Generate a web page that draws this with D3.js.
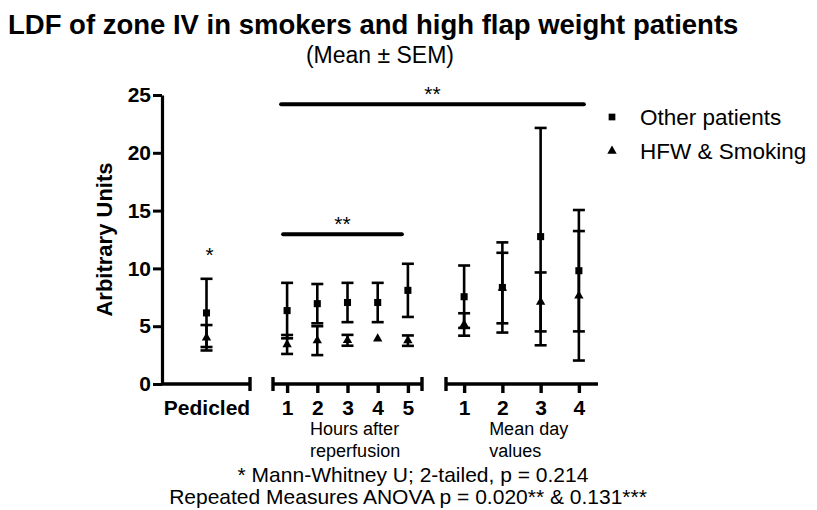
<!DOCTYPE html>
<html>
<head>
<meta charset="utf-8">
<script src="https://cdn.jsdelivr.net/npm/d3@7"></script>
<style>
  html, body { margin: 0; padding: 0; background: #fff; }
  svg { display: block; font-family: "Liberation Sans", Arial, sans-serif; }
</style>
</head>
<body>
<svg id="chart" width="817" height="510"></svg>
<script>
// ── Data ────────────────────────────────────────────────
const pedCats  = ['Pedicled'];
const hourCats = ['1', '2', '3', '4', '5'];
const dayCats  = ['1', '2', '3', '4'];

// Other patients (squares)
const otherPed     = [6.15];
const otherPedSem  = [2.95];
const otherHour    = [6.35, 6.95, 7.05, 7.05, 8.1];
const otherHourSem = [2.4, 1.7, 1.7, 1.7, 2.3];
const otherDay     = [7.55, 8.35, 12.75, 9.8];
const otherDaySem  = [2.7, 3.9, 9.4, 5.25];

// HFW & Smoking (triangles)
const hfwPed     = [4.0];
const hfwPedSem  = [1.1];
const hfwHour    = [3.42, 3.75, 3.78, 3.92, 3.75];
const hfwHourSem = [0.82, 1.25, 0.47, 0.1, 0.45];
const hfwDay     = [5.15, 8.3, 7.1, 7.63];
const hfwDaySem  = [0.97, 3.05, 2.55, 5.6];

const yTicks = [0, 5, 10, 15, 20, 25];

(function () {
  const svg = d3.select('#chart');
  const FONT = '"Liberation Sans", Arial, sans-serif';

  // ── Scales ─────────────────────────────────────────────
  const y  = d3.scaleLinear().domain([0, 25]).range([384, 95]);
  const xP = d3.scalePoint().domain(pedCats).range([162, 251]).padding(0.5);
  const xH = d3.scalePoint().domain(hourCats).range([272, 423]).padding(0.5);
  const xD = d3.scalePoint().domain(dayCats).range([445, 598]).padding(0.5);

  // ── Titles ─────────────────────────────────────────────
  svg.append('text')
    .attr('x', 8).attr('y', 34)
    .attr('font-size', 27.5).attr('font-weight', 'bold')
    .text('LDF of zone IV in smokers and high flap weight patients');

  svg.append('text')
    .attr('x', 380).attr('y', 63)
    .attr('text-anchor', 'middle')
    .attr('font-size', 23)
    .text('(Mean \u00B1 SEM)');

  // ── Y axis ─────────────────────────────────────────────
  const yAx = svg.append('g')
    .attr('transform', 'translate(162,0)')
    .call(d3.axisLeft(y).tickValues(yTicks).tickSize(9).tickSizeOuter(0).tickPadding(2));
  yAx.select('.domain').attr('stroke', '#000').attr('stroke-width', 3.2);
  yAx.selectAll('.tick line').attr('stroke', '#000').attr('stroke-width', 3);
  yAx.selectAll('.tick text')
    .attr('font-size', 21).attr('font-weight', 'bold')
    .attr('font-family', FONT).attr('fill', '#000');

  svg.append('text')
    .attr('transform', `translate(112,${y(12.5)}) rotate(-90)`)
    .attr('text-anchor', 'middle')
    .attr('font-size', 22).attr('font-weight', 'bold')
    .text('Arbitrary Units');

  // ── Segmented X axis ───────────────────────────────────
  // [scale, cap at left?, cap at right?]
  const segs = [[xP, false, true], [xH, true, true], [xD, true, false]];
  segs.forEach(([sc, capL, capR]) => {
    const [r0, r1] = sc.range();
    const ax = svg.append('g')
      .attr('transform', `translate(0,${y(0)})`)
      .call(d3.axisBottom(sc).tickSize(sc === xP ? 0 : 9).tickSizeOuter(0));
    ax.select('.domain').attr('stroke', '#000').attr('stroke-width', 3.4)
      .attr('d', `M${r0},0H${r1}`);
    ax.selectAll('.tick line').attr('stroke', '#000').attr('stroke-width', 3.4);
    ax.selectAll('.tick text')
      .attr('font-size', 21).attr('font-weight', 'bold')
      .attr('font-family', FONT).attr('fill', '#000')
      .attr('dy', 0).attr('y', 31);
    if (capL) ax.append('line').attr('x1', r0 + 1).attr('x2', r0 + 1).attr('y1', -7).attr('y2', 7)
      .attr('stroke', '#000').attr('stroke-width', 3.4);
    if (capR) ax.append('line').attr('x1', r1 - 1).attr('x2', r1 - 1).attr('y1', -7).attr('y2', 7)
      .attr('stroke', '#000').attr('stroke-width', 3.4);
  });

  // Segment captions
  const captions = [
    { x: xH('1') + 23, lines: ['Hours after', 'reperfusion'] },
    { x: xD('1') + 25, lines: ['Mean day', 'values'] },
  ];
  captions.forEach(c => c.lines.forEach((s, i) => {
    svg.append('text')
      .attr('x', c.x).attr('y', 435 + i * 22)
      .attr('font-size', 18)
      .text(s);
  }));

  // ── Error bars + symbols ───────────────────────────────
  const groups = [
    { sc: xP, cats: pedCats,  mean: otherPed,  sem: otherPedSem,  sym: d3.symbolSquare },
    { sc: xH, cats: hourCats, mean: otherHour, sem: otherHourSem, sym: d3.symbolSquare },
    { sc: xD, cats: dayCats,  mean: otherDay,  sem: otherDaySem,  sym: d3.symbolSquare },
    { sc: xP, cats: pedCats,  mean: hfwPed,    sem: hfwPedSem,    sym: d3.symbolTriangle },
    { sc: xH, cats: hourCats, mean: hfwHour,   sem: hfwHourSem,   sym: d3.symbolTriangle },
    { sc: xD, cats: dayCats,  mean: hfwDay,    sem: hfwDaySem,    sym: d3.symbolTriangle },
  ];
  const plot = svg.append('g');
  groups.forEach(gr => {
    const pts = gr.cats.map((c, i) => ({ x: gr.sc(c), m: gr.mean[i], s: gr.sem[i] }));
    // bars shorter than the symbol are hidden behind it (as in Prism)
    const bars = pts.filter(d => y(d.m - d.s) - y(d.m + d.s) > 8);
    const eb = plot.append('g').attr('stroke', '#000').attr('stroke-width', 2.6);
    eb.selectAll('line.v').data(bars).join('line').attr('class', 'v')
      .attr('x1', d => d.x).attr('x2', d => d.x)
      .attr('y1', d => y(d.m + d.s)).attr('y2', d => y(d.m - d.s));
    eb.selectAll('line.hi').data(bars).join('line').attr('class', 'hi')
      .attr('x1', d => d.x - 6).attr('x2', d => d.x + 6)
      .attr('y1', d => y(d.m + d.s)).attr('y2', d => y(d.m + d.s));
    eb.selectAll('line.lo').data(bars).join('line').attr('class', 'lo')
      .attr('x1', d => d.x - 6).attr('x2', d => d.x + 6)
      .attr('y1', d => y(d.m - d.s)).attr('y2', d => y(d.m - d.s));
    plot.selectAll(null).data(pts).join('path')
      .attr('transform', d => `translate(${d.x},${y(d.m)})`)
      .attr('d', d3.symbol().type(gr.sym).size(gr.sym === d3.symbolSquare ? 50 : 38))
      .attr('fill', '#000');
  });

  // ── Significance marks ─────────────────────────────────
  const brackets = [
    { x1: xH('1') - 6, x2: xD('4') + 5, v: 24.2, label: '**' },
    { x1: xH('1') - 4, x2: xH('5') - 6, v: 12.95, label: '**' },
  ];
  brackets.forEach(b => {
    svg.append('line')
      .attr('x1', b.x1).attr('x2', b.x2).attr('y1', y(b.v)).attr('y2', y(b.v))
      .attr('stroke', '#000').attr('stroke-width', 4).attr('stroke-linecap', 'round');
    svg.append('text')
      .attr('x', (b.x1 + b.x2) / 2).attr('y', y(b.v) - 3)
      .attr('text-anchor', 'middle').attr('font-size', 21)
      .text(b.label);
  });
  svg.append('text')
    .attr('x', xP('Pedicled') + 3).attr('y', 262)
    .attr('text-anchor', 'middle').attr('font-size', 21)
    .text('*');

  // ── Legend ─────────────────────────────────────────────
  const legend = [
    { name: 'Other patients', sym: d3.symbolSquare, size: 45 },
    { name: 'HFW & Smoking',  sym: d3.symbolTriangle, size: 38 },
  ];
  const lg = svg.append('g').attr('transform', 'translate(612,117)');
  legend.forEach((d, i) => {
    lg.append('path')
      .attr('transform', `translate(0,${i * 34})`)
      .attr('d', d3.symbol().type(d.sym).size(d.size))
      .attr('fill', '#000');
    lg.append('text')
      .attr('x', 28).attr('y', i * 34 + 8)
      .attr('font-size', 22.5)
      .text(d.name);
  });

  // ── Footnotes ──────────────────────────────────────────
  const notes = [
    '* Mann-Whitney U; 2-tailed, p = 0.214',
    'Repeated Measures ANOVA p = 0.020** & 0.131***',
  ];
  svg.selectAll('text.note').data(notes).join('text').attr('class', 'note')
    .attr('x', (d, i) => i ? 408 : 413)
    .attr('y', (d, i) => 482 + i * 22)
    .attr('text-anchor', 'middle').attr('font-size', 21)
    .text(d => d);
})();
</script>
</body>
</html>
